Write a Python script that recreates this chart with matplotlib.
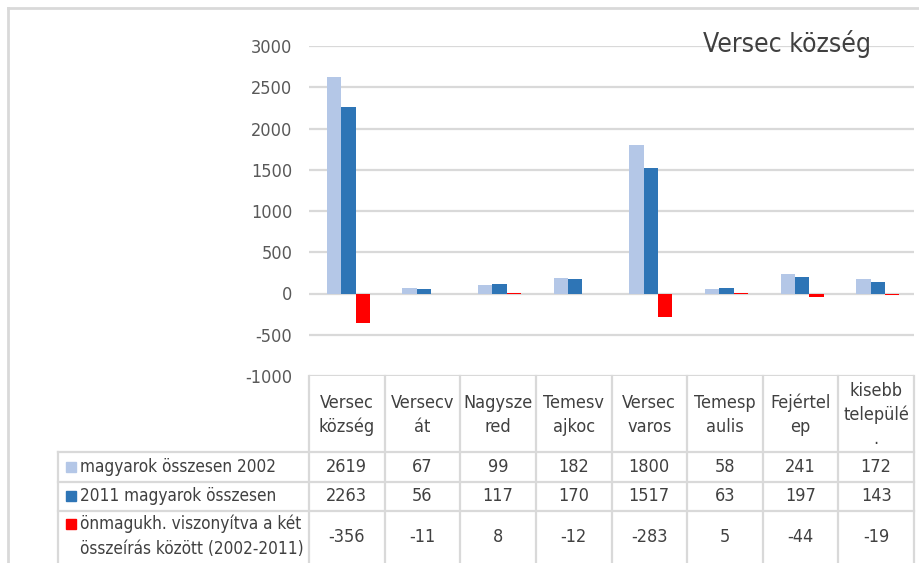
import matplotlib
matplotlib.use('Agg')
import matplotlib.pyplot as plt
from matplotlib.transforms import blended_transform_factory
from matplotlib.patches import Rectangle

plt.rcParams['font.family'] = ['DejaVu Sans']
plt.rcParams['font.stretch'] = 'condensed'

categories = ['Versec\nközség', 'Versecv\nát', 'Nagysze\nred', 'Temesv\najkoc',
              'Versec\nvaros', 'Temesp\naulis', 'Fejértel\nep', 'kisebb\ntelepülé\n.']
series_names = ['magyarok összesen 2002', '2011 magyarok összesen',
                'önmagukh. viszonyítva a két\nösszeírás között (2002-2011)']
m2002 = [2619, 67, 99, 182, 1800, 58, 241, 172]
m2011 = [2263, 56, 117, 170, 1517, 63, 197, 143]
diff = [-356, -11, 8, -12, -283, 5, -44, -19]
colors = ['#B4C7E7', '#2E75B6', '#FF0000']
yticks = [-1000, -500, 0, 500, 1000, 1500, 2000, 2500, 3000]

W, H = 919, 563
grid_c = '#D9D9D9'
text_c = '#404040'
fs = 13

fig = plt.figure(figsize=(W / 100, H / 100), dpi=100)

# overlay in pixel coords for table and frame
ov = fig.add_axes([0, 0, 1, 1])
ov.set_xlim(0, W)
ov.set_ylim(H, 0)
ov.axis('off')

ax = fig.add_axes([309 / W, (H - 376) / H, (914 - 309) / W, (376 - 46) / H])
ax.set_xlim(-0.5, len(categories) - 0.5)
ax.set_ylim(-1000, 3000)
ax.set_yticks(yticks)
ax.set_yticklabels([str(t) for t in yticks])
ax.tick_params(axis='y', length=0, pad=12, labelsize=13, labelcolor='#595959')
ax.set_xticks([])
for s in ax.spines.values():
    s.set_visible(False)
ax.grid(axis='y', color=grid_c, linewidth=1.6)
ax.set_axisbelow(True)
ax.patch.set_alpha(0)

bw = 0.19
xs = range(len(categories))
for k, vals in enumerate([m2002, m2011, diff]):
    ax.bar([x + (k - 1) * bw + 0.02 for x in xs], vals, width=bw, color=colors[k], zorder=3)

ax.text(787, 44, 'Versec község', transform=ov.transData, ha='center', va='center',
        fontsize=19, color=text_c)

# data table
tr = blended_transform_factory(ax.transData, ov.transData)
row_lines = [452, 482, 511]
for i in range(len(categories) + 1):
    ov.plot([i - 0.5, i - 0.5], [376, H], transform=tr, color=grid_c, lw=1.6, clip_on=False)
for y in row_lines:
    ov.plot([58, 914], [y, y], color=grid_c, lw=1.6)
ov.plot([58, 58], [452, H], color=grid_c, lw=1.6)

for i, c in enumerate(categories):
    ov.text(i, 415, c, transform=tr, ha='center', va='center', fontsize=fs,
            color=text_c, linespacing=1.4)

row_y = [467, 496, 537]
for k, vals in enumerate([m2002, m2011, diff]):
    for i, v in enumerate(vals):
        ov.text(i, row_y[k], str(v), transform=tr, ha='center', va='center',
                fontsize=fs, color=text_c)
    ov.add_patch(Rectangle((66, row_y[k] - 5 if k < 2 else 519), 10, 10,
                           color=colors[k]))
    ov.text(80, row_y[k] if k < 2 else 536, series_names[k], ha='left', va='center',
            fontsize=12.3, color=text_c, linespacing=1.5)

# chart frame
ov.plot([8, W], [8, 8], color=grid_c, lw=2)
ov.plot([8, 8], [8, H], color=grid_c, lw=2)

fig.savefig('out.png', dpi=100)
